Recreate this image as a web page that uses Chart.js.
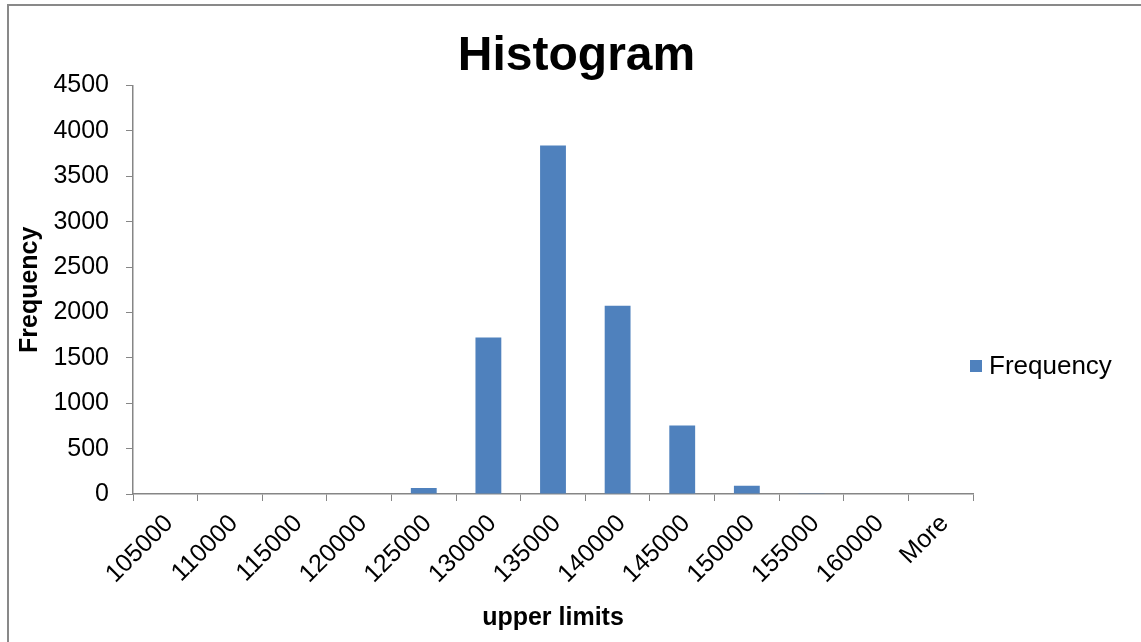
<!DOCTYPE html>
<html>
<head>
<meta charset="utf-8">
<script src="https://cdn.jsdelivr.net/npm/chart.js@4/dist/chart.umd.min.js"></script>
<style>
  html, body { margin: 0; padding: 0; background: #ffffff; }
  #wrap { position: relative; width: 1141px; height: 642px; }
</style>
</head>
<body>
<div id="wrap"><canvas id="chart" width="1141" height="642"></canvas></div>
<script>
// Histogram bins (upper limits) and their counts
const binLabels = ['105000', '110000', '115000', '120000', '125000', '130000', '135000',
                   '140000', '145000', '150000', '155000', '160000', 'More'];
const frequency = [0, 0, 0, 0, 65, 1725, 3840, 2075, 755, 90, 8, 0, 0];
const yTicks = [0, 500, 1000, 1500, 2000, 2500, 3000, 3500, 4000, 4500];

const FONT = '"Liberation Sans", Arial, Helvetica, sans-serif';
const BAR_BLUE = '#4F81BD';
const AXIS_GREY = '#868686';

// Grey frame around the chart object
const framePlugin = {
  id: 'frame',
  beforeDraw(chart) {
    const ctx = chart.ctx;
    ctx.save();
    ctx.fillStyle = '#ffffff';
    ctx.fillRect(0, 0, chart.width, chart.height);
    ctx.strokeStyle = '#898989';
    ctx.lineWidth = 2;
    ctx.strokeRect(8, 5, chart.width + 20, chart.height + 20);
    ctx.restore();
  }
};

// Single-entry legend in the space reserved on the right
const sideLegend = {
  id: 'sideLegend',
  afterDraw(chart) {
    const ctx = chart.ctx;
    const ds = chart.data.datasets[0];
    const x = 970, y = 366;
    ctx.save();
    ctx.fillStyle = ds.backgroundColor;
    ctx.fillRect(x, y - 6, 12, 12);
    ctx.fillStyle = '#000000';
    ctx.font = '26px ' + FONT;
    ctx.textBaseline = 'middle';
    ctx.textAlign = 'left';
    ctx.fillText(ds.label, x + 19, y + 1);
    ctx.restore();
  }
};

new Chart(document.getElementById('chart'), {
  type: 'bar',
  data: {
    labels: binLabels,
    datasets: [{
      label: 'Frequency',
      data: frequency,
      backgroundColor: BAR_BLUE,
      borderWidth: 0,
      barPercentage: 0.4,
      categoryPercentage: 1.0
    }]
  },
  plugins: [framePlugin, sideLegend],
  options: {
    responsive: false,
    animation: false,
    events: [],
    layout: { padding: { left: 12, right: 0, top: 0, bottom: 8 } },
    plugins: {
      legend: { display: false },
      tooltip: { enabled: false },
      title: {
        display: true,
        text: 'Histogram',
        color: '#000000',
        font: { family: FONT, size: 48, weight: 'bold' },
        padding: { top: 28, bottom: 0 }
      }
    },
    scales: {
      x: {
        offset: true,
        grid: {
          display: true,
          offset: true,
          drawOnChartArea: false,
          drawTicks: true,
          tickLength: 7,
          color: AXIS_GREY,
          lineWidth: 1
        },
        border: { display: true, color: AXIS_GREY, width: 1.5 },
        ticks: {
          color: '#000000',
          font: { family: FONT, size: 25 },
          minRotation: 45,
          maxRotation: 45,
          autoSkip: false,
          padding: 8,
          labelOffset: 4
        },
        title: {
          display: true,
          text: 'upper limits',
          color: '#000000',
          font: { family: FONT, size: 25, weight: 'bold' },
          padding: { top: 0, bottom: 1 }
        },
        afterFit(scale) { scale.height = 140; }
      },
      y: {
        min: 0,
        max: 4500,
        afterBuildTicks(scale) { scale.ticks = yTicks.map(v => ({ value: v })); },
        grid: {
          display: true,
          drawOnChartArea: false,
          drawTicks: true,
          tickLength: 7,
          color: AXIS_GREY,
          lineWidth: 1
        },
        border: { display: true, color: AXIS_GREY, width: 1.5 },
        ticks: {
          color: '#000000',
          font: { family: FONT, size: 25 },
          padding: 17,
          callback: (value) => String(value)
        },
        title: {
          display: true,
          text: 'Frequency',
          color: '#000000',
          font: { family: FONT, size: 25, weight: 'bold' },
          padding: { top: 3, bottom: 3 }
        },
        afterFit(scale) { scale.width = 121; }
      },
      // empty right-hand axis that keeps room for the legend
      legendSpace: {
        type: 'linear',
        position: 'right',
        display: true,
        grid: { display: false, drawTicks: false },
        border: { display: false },
        ticks: { display: false },
        afterFit(scale) { scale.width = 168; }
      }
    }
  }
});
</script>
</body>
</html>
